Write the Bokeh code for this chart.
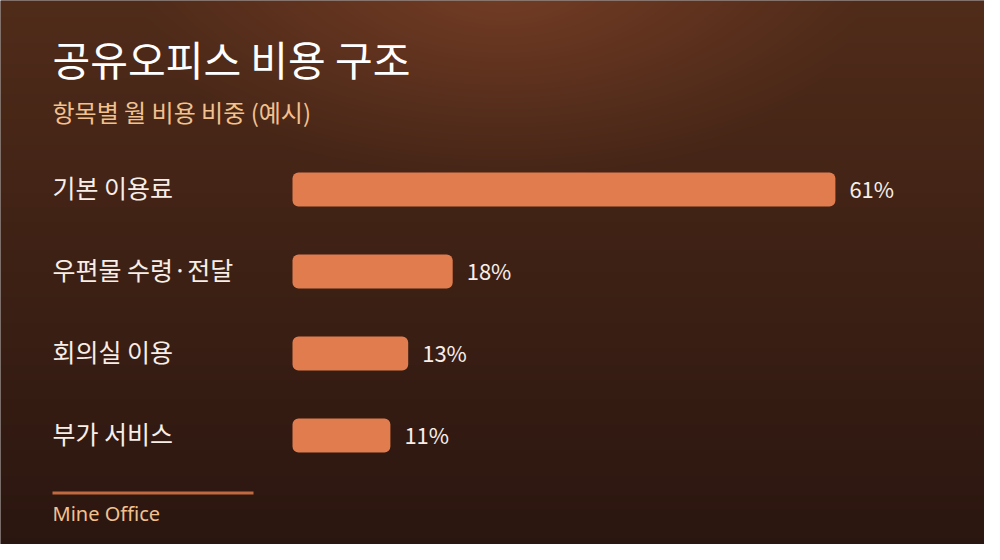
import numpy as np
from bokeh.plotting import figure
from bokeh.models import Range1d, Label, BoxAnnotation, ColumnDataSource
from bokeh.core.properties import value
from bokeh.embed import file_html
from bokeh.resources import INLINE

# ---- data ----
title_text = "공유오피스 비용 구조"
subtitle_text = "항목별 월 비용 비중 (예시)"
footer_text = "Mine Office"
categories = ["기본 이용료", "우편물 수령·전달", "회의실 이용", "부가 서비스"]
shares = [61, 18, 13, 11]
value_labels = [f"{v}%" for v in shares]

# ---- layout constants (pixels) ----
W, H = 984, 544
OFF = 8                      # page margin
X0_PX = 300 - OFF            # pixel where 0% sits
PX_PER_UNIT = 8.9            # pixels per percent
ROW0_PX = 197 - OFF          # first row centre from top
ROW_PX = 82                  # row spacing

x_start = (0 - X0_PX) / PX_PER_UNIT
x_end = (W - X0_PX) / PX_PER_UNIT
y_end = ROW0_PX / ROW_PX
y_start = -(H - ROW0_PX) / ROW_PX

rows = [-i for i in range(len(categories))]

p = figure(width=W, height=H, output_backend="svg", toolbar_location=None,
           x_range=Range1d(x_start, x_end), y_range=Range1d(y_start, y_end),
           min_border=0, x_axis_type=None, y_axis_type=None)
p.grid.visible = False
p.outline_line_color = None
p.background_fill_color = "#2a1610"
p.border_fill_color = "#2a1610"

# ---- background gradient (style only) ----
yy, xx = np.mgrid[0:H, 0:W].astype(float)
ref_y = OFF + (H - 1 - yy) + 0.5   # row 0 at bottom
ref_x = OFF + xx + 0.5
t = np.clip(ref_y / 560.0, 0, 1)[..., None]
top = np.array([81, 44, 26], float)
bot = np.array([42, 22, 16], float)
base = top + (bot - top) * t
r = np.sqrt(((ref_x - 510) / 360.0) ** 2 + ((ref_y + 5) / 200.0) ** 2)
glow = np.clip(1 - r, 0, 1)[..., None]
rgb = base + glow * np.array([35, 17, 11], float)
img = np.empty((H, W, 4), dtype=np.uint8)
img[..., :3] = np.clip(rgb, 0, 255).astype(np.uint8)
img[..., 3] = 255
p.image_rgba(image=[img.view(np.uint32).reshape(H, W)], x=x_start, y=y_start,
             dw=x_end - x_start, dh=y_end - y_start)

src = ColumnDataSource(dict(cat=categories, share=shares, lab=value_labels, row=rows))

p.hbar(y="row", left=0, right="share", height=34 / ROW_PX, source=src,
       fill_color="#e07c4e", line_color=None, border_radius=6)

p.text(x="share", y="row", text="lab", source=src, x_offset=14, y_offset=-2,
       text_font=value("Noto Sans CJK KR"), text_font_size="22px",
       text_color="#f7eee8", text_baseline="middle", text_align="left")

p.text(x=0, y="row", text="cat", source=src, x_offset=-(X0_PX - (60 - OFF)), y_offset=-3,
       text_font=value("Noto Sans CJK KR"), text_font_size="25px",
       text_color="#f7eee8", text_baseline="middle", text_align="left")

p.add_layout(Label(x=60 - OFF, y=H - (65 - OFF), x_units="screen", y_units="screen",
                   text=title_text, text_font="Noto Sans CJK KR", text_font_size="41px",
                   text_color="#ffffff", text_baseline="middle"))
p.add_layout(Label(x=60 - OFF, y=H - (119 - OFF), x_units="screen", y_units="screen",
                   text=subtitle_text, text_font="Noto Sans CJK KR", text_font_size="24px",
                   text_color="#f2c18f", text_baseline="middle"))
p.add_layout(BoxAnnotation(left=60 - OFF, right=261 - OFF,
                           bottom=H - (502 - OFF), top=H - (499 - OFF),
                           left_units="screen", right_units="screen",
                           bottom_units="screen", top_units="screen",
                           fill_color="#bf6a41", fill_alpha=1, line_color=None))
p.add_layout(Label(x=60 - OFF, y=H - (521 - OFF), x_units="screen", y_units="screen",
                   text=footer_text, text_font="Noto Sans", text_font_size="20px",
                   text_color="#f2c18f", text_baseline="middle"))

open("out.html", "w").write(file_html(p, INLINE))
